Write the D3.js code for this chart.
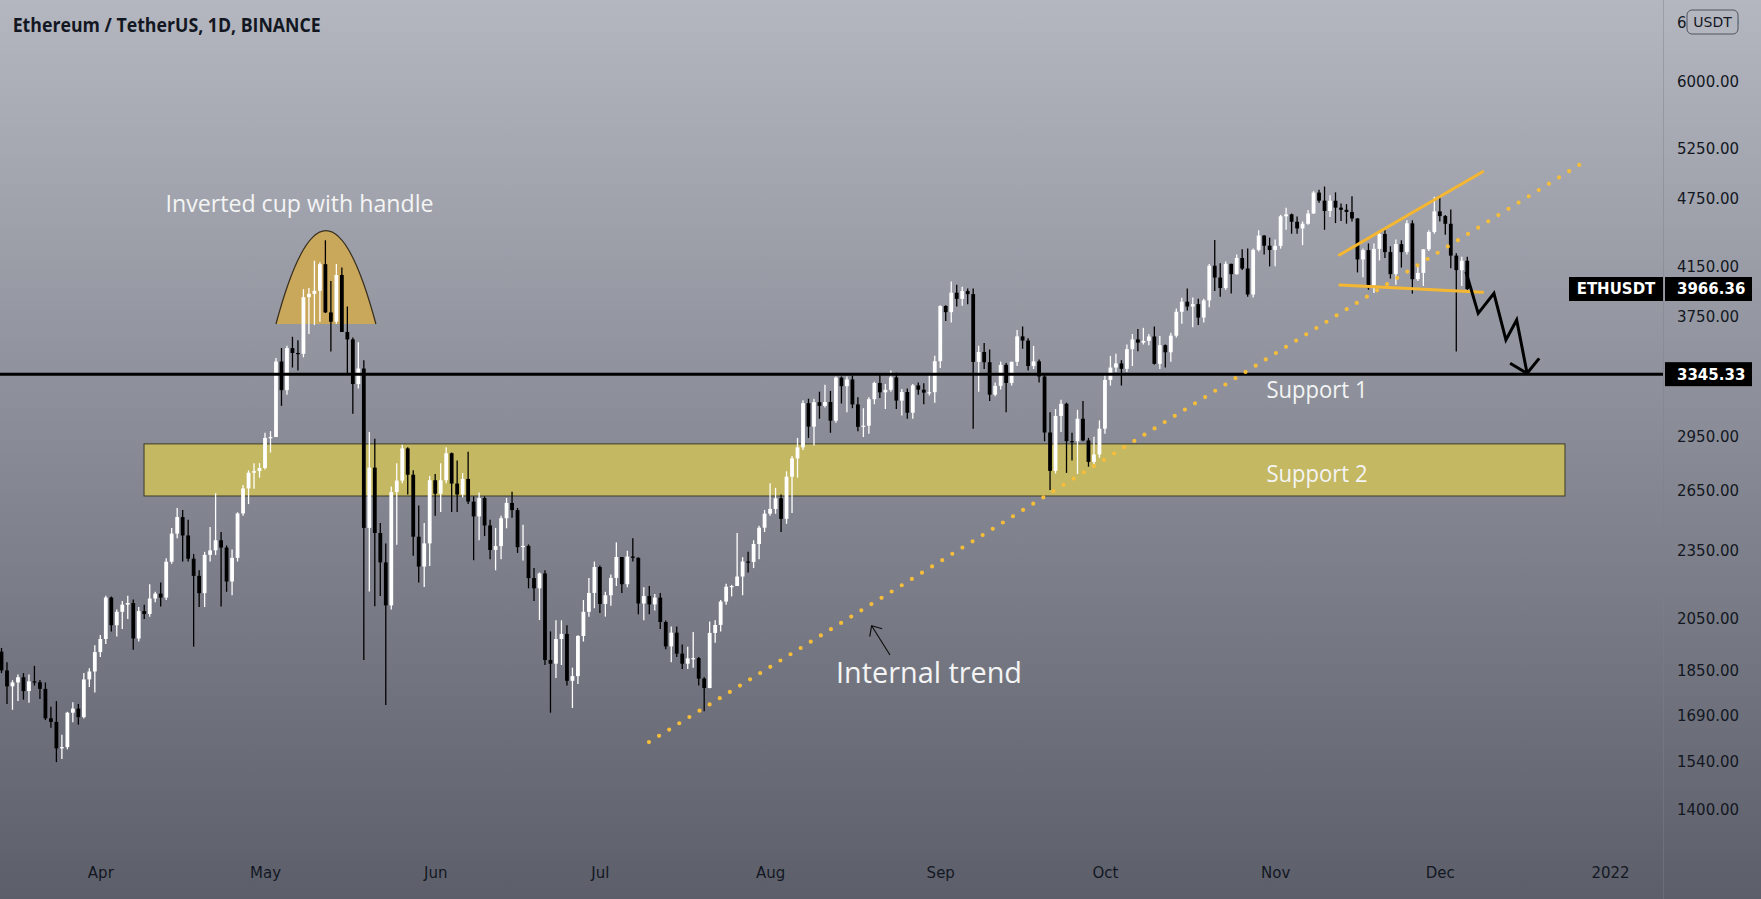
<!DOCTYPE html>
<html><head><meta charset="utf-8">
<script src="https://cdn.jsdelivr.net/npm/d3@7/dist/d3.min.js"></script>
<style>html,body{margin:0;padding:0;background:#5d606b;overflow:hidden}svg{display:block}</style>
</head><body>
<svg id="chart" width="1761" height="899"></svg>
<script>
// ---------------- DATA (ETH/USDT daily) ----------------
const startDate = "2021-03-14";
const openPrices = [
 1921,1850,1792,1806,1825,1775,1810,1807,1783,1681,1669,1583,1587,1700,1714,1685,1817,1846,
 1919,1970,2140,2025,2080,2110,2117,1972,2083,2071,2136,2157,2140,2299,2432,2514,2423,2313,2235,2159,2331,2352,2400,2365,2210,2317,2532,2662,2747,2756,
 2773,2945,2950,3431,3240,3524,3490,3484,3902,3928,3952,4168,3785,3715,4079,3640,3586,3280,3383,2460,2775,2435,2296,2107,2643,2704,2884,2736,2417,2277,2385,
 2706,2634,2706,2856,2688,2630,2713,2593,2517,2611,2472,2354,2372,2508,2586,2549,2367,2373,2225,2180,2246,1889,1875,1970,1990,1812,1829,1982,2080,2160,
 2275,2113,2150,2226,2321,2198,2323,2317,2115,2147,2111,2140,2038,1941,1995,1913,1875,1895,1896,1820,1786,1994,2026,2123,2187,2190,2232,2300,2298,2382,2461,
 2531,2555,2610,2505,2725,2827,2890,3157,3012,3163,3140,3164,3048,3322,3266,3310,3149,3011,3018,3182,3287,3226,3242,3324,3173,3228,3097,3271,3243,3224,3227,
 3433,3834,3787,3937,3889,3950,3926,3428,3497,3426,3211,3268,3408,3287,3429,3608,3578,3400,3432,3330,2977,2757,3077,3153,2926,2925,3060,2930,2807,2849,
 3000,3307,3390,3418,3381,3517,3586,3563,3575,3607,3415,3545,3495,3613,3790,3867,3830,3848,3746,3877,4155,4058,3974,4171,4086,4220,4132,3923,4289,4414,4325,
 4288,4324,4587,4605,4537,4477,4519,4613,4810,4733,4636,4732,4667,4647,4627,4567,4208,4287,3998,4298,4428,4270,4086,4339,4270,4523,4045,4096,4294,4445,
 4632,4589,4519,4240,4119,4197
];
const highPrices = [
 1935,1880,1814,1835,1840,1835,1867,1815,1806,1720,1740,1627,1703,1736,1730,1840,1858,1945,
 1986,2148,2145,2090,2125,2148,2132,2100,2110,2198,2165,2205,2315,2460,2560,2550,2500,2335,2260,2345,2464,2637,2440,2375,2356,2538,2680,2760,2800,2800,
 2975,2985,3455,3525,3540,3605,3580,3965,3975,4197,4185,4372,4030,4170,4140,3830,3600,3565,3440,2980,2940,2484,2385,2672,2800,2905,2890,2760,2573,2484,2729,
 2740,2800,2890,2860,2815,2745,2865,2620,2640,2620,2500,2460,2520,2612,2645,2560,2475,2380,2270,2250,2260,2000,2045,2045,2025,1860,1985,2130,2225,2300,
 2282,2165,2241,2390,2321,2350,2410,2320,2185,2190,2155,2160,2044,2020,2020,1948,1940,1998,1900,1825,2040,2045,2130,2200,2195,2435,2320,2345,2400,2470,2550,
 2690,2665,2630,2755,2840,2945,3175,3185,3185,3230,3275,3235,3330,3330,3330,3335,3195,3125,3195,3295,3340,3280,3370,3355,3248,3250,3280,3290,3285,3350,3470,
 3840,3840,4027,4000,3985,3970,3970,3540,3560,3515,3290,3430,3420,3430,3655,3680,3595,3540,3445,3345,3100,3120,3178,3160,2976,3115,3170,2945,2952,3050,
 3340,3470,3485,3440,3550,3625,3662,3670,3625,3680,3610,3550,3635,3815,3897,3971,3900,3890,3890,4170,4375,4175,4190,4172,4250,4295,4300,4300,4460,4416,4395,
 4380,4600,4665,4612,4585,4540,4645,4824,4838,4868,4785,4812,4705,4700,4775,4570,4300,4345,4345,4450,4463,4320,4380,4372,4550,4550,4170,4295,4460,4770,
 4785,4600,4650,4260,4230,4230
];
const lowPrices = [
 1840,1730,1710,1740,1745,1734,1795,1747,1675,1650,1540,1550,1580,1668,1660,1680,1790,1770,
 1900,1950,2000,1980,2010,2050,1928,1960,2050,2060,2120,2102,2130,2290,2410,2300,2300,1940,2100,2100,2300,2330,2102,2165,2150,2300,2520,2580,2660,2720,
 2765,2860,2950,3140,3210,3390,3370,3460,3625,3690,3715,3780,3500,3700,3640,3345,3090,3250,1889,2166,2103,2147,1726,2090,2378,2690,2630,2327,2206,2186,2280,
 2520,2540,2690,2540,2540,2615,2580,2306,2400,2420,2310,2260,2310,2458,2510,2340,2305,2180,2125,2046,1870,1700,1822,1870,1795,1716,1800,1960,2060,2095,
 2075,2060,2105,2190,2160,2185,2300,2070,2045,2070,2085,2010,1930,1880,1900,1855,1855,1860,1795,1705,1785,1955,2000,2110,2145,2190,2150,2250,2270,2310,2440,
 2520,2530,2440,2480,2535,2720,2875,2945,2900,3060,3130,2975,3035,3155,3100,3125,2985,2950,2970,3150,3190,3120,3230,3120,3080,3060,3060,3210,3150,3205,3160,
 3387,3720,3710,3830,3835,3848,3000,3230,3380,3170,3200,3244,3100,3270,3400,3520,3370,3380,3290,2925,2653,2743,2980,2746,2815,2740,2925,2780,2780,2830,
 2970,3270,3360,3270,3360,3400,3503,3550,3544,3410,3380,3390,3430,3600,3700,3800,3675,3690,3710,3825,3950,3905,3960,3930,4080,4120,3905,3900,4275,4250,4150,
 4150,4300,4465,4430,4430,4330,4510,4610,4713,4465,4580,4525,4545,4520,4540,4100,4060,3960,3935,4200,4220,4050,4000,4140,4250,3930,4030,3990,4280,4430,
 4540,4420,4135,3500,3990,3940
];
const closePrices = [
 1850,1792,1806,1825,1775,1810,1807,1783,1681,1669,1583,1587,1700,1714,1685,1817,1846,1919,
 1970,2140,2025,2080,2110,2117,1972,2083,2071,2136,2157,2140,2299,2432,2514,2423,2313,2235,2159,2331,2352,2400,2365,2210,2317,2532,2662,2747,2756,2773,
 2945,2950,3431,3240,3524,3490,3484,3902,3928,3952,4168,3785,3715,4079,3640,3586,3280,3383,2460,2775,2435,2296,2107,2643,2704,2884,2736,2417,2277,2385,2706,
 2634,2706,2856,2688,2630,2713,2593,2517,2611,2472,2354,2372,2508,2586,2549,2367,2373,2225,2180,2246,1889,1875,1970,1990,1812,1829,1982,2080,2160,2275,
 2113,2150,2226,2321,2198,2323,2317,2115,2147,2111,2140,2038,1941,1995,1913,1875,1895,1896,1820,1786,1994,2026,2123,2187,2190,2232,2300,2298,2382,2461,2531,
 2555,2610,2505,2725,2827,2890,3157,3012,3163,3140,3164,3048,3322,3266,3310,3149,3011,3018,3182,3287,3226,3242,3324,3173,3228,3097,3271,3243,3224,3227,3433,
 3834,3787,3937,3889,3950,3926,3428,3497,3426,3211,3268,3408,3287,3429,3608,3578,3400,3432,3330,2977,2757,3077,3153,2926,2925,3060,2930,2807,2849,3000,
 3307,3390,3418,3381,3517,3586,3563,3575,3607,3415,3545,3495,3613,3790,3867,3830,3848,3746,3877,4155,4058,3974,4171,4086,4220,4132,3923,4289,4414,4325,4288,
 4324,4587,4605,4537,4477,4519,4613,4810,4733,4636,4732,4667,4647,4627,4567,4208,4287,3998,4298,4428,4270,4086,4339,4270,4523,4045,4096,4294,4445,4632,
 4589,4519,4240,4119,4197,3966.36
];
const priceTicks = [6750, 6000, 5250, 4750, 4150, 3750, 2950, 2650, 2350, 2050, 1850, 1690, 1540, 1400];
const monthTicks = ["2021-04-01","2021-05-01","2021-06-01","2021-07-01","2021-08-01","2021-09-01","2021-10-01","2021-11-01","2021-12-01","2022-01-01"];
const monthLabels = ["Apr","May","Jun","Jul","Aug","Sep","Oct","Nov","Dec","2022"];
const symbolName = "ETHUSDT";
const support1Price = 3345.33;
// annotation anchors: [days after startDate, price]
const support2Zone = {from: 25.96, to: 284.8, top: 2910, bottom: 2622};
const cupArc = {left: [50.0, 3698], apex: [59.1, 4457], right: [68.2, 3698]};
const trendLine = [[117.94, 1603], [288.25, 5113]];
const wedgeUpper = [[243.7, 4245], [269.8, 5015]];
const wedgeLower = [[243.8, 3998], [269.8, 3940]];
const zigzag = [[266.76, 4106], [268.99, 3778], [271.86, 3932], [274.04, 3582], [276.0, 3728], [277.9, 3351]];
const zigzagHead = [[274.8, 3419], [277.9, 3351], [280.1, 3453]];
const trendPointer = [[161.84, 1908], [158.5, 2023]];

// ---------------- CHART ----------------
const W = 1761, H = 899, plotRight = 1663;
const svg = d3.select("#chart");
const defs = svg.append("defs");
const grad = defs.append("linearGradient").attr("id", "bg").attr("x1", 0).attr("y1", 0).attr("x2", 0).attr("y2", 1);
grad.append("stop").attr("offset", "0%").attr("stop-color", "#b4b7c0");
grad.append("stop").attr("offset", "100%").attr("stop-color", "#5c5f6a");
svg.append("rect").attr("width", W).attr("height", H).attr("fill", "url(#bg)");
defs.append("clipPath").attr("id", "plotClip").append("rect").attr("width", plotRight).attr("height", H);

const t0 = new Date(startDate + "T00:00:00Z");
const DAY = 864e5;
const dayToDate = d => new Date(t0.getTime() + d * DAY);
const dates = closePrices.map((_, i) => dayToDate(i));

const x = d3.scaleUtc().domain([t0, new Date("2022-01-01T00:00:00Z")]).range([1.5, 1610]);
const y = d3.scaleLog().domain([1400, 6000]).range([809.8, 82]);
const px = p => [x(dayToDate(p[0])), y(p[1])];

// axis separator
svg.append("line").attr("x1", plotRight + 0.5).attr("x2", plotRight + 0.5).attr("y1", 0).attr("y2", H)
  .attr("stroke", "#7d808a").attr("stroke-opacity", 0.45).attr("stroke-width", 1);

const plot = svg.append("g").attr("clip-path", "url(#plotClip)");

// Support 2 zone
plot.append("rect")
  .attr("x", x(dayToDate(support2Zone.from)))
  .attr("y", y(support2Zone.top))
  .attr("width", x(dayToDate(support2Zone.to)) - x(dayToDate(support2Zone.from)))
  .attr("height", y(support2Zone.bottom) - y(support2Zone.top))
  .attr("fill", "#c4b862").attr("stroke", "#3c3a2a").attr("stroke-width", 1);

// Inverted cup (arc)
{
  const L = px(cupArc.left), A = px(cupArc.apex), R = px(cupArc.right);
  const cy = L[1] - 2 * (L[1] - A[1]);
  const cx = 2 * A[0] - (L[0] + R[0]) / 2;
  plot.append("path")
    .attr("d", `M${L[0]},${L[1]} Q${cx},${cy} ${R[0]},${R[1]} Z`)
    .attr("fill", "#c9a85c").attr("stroke", "none");
  plot.append("path")
    .attr("d", `M${L[0]},${L[1]} Q${cx},${cy} ${R[0]},${R[1]}`)
    .attr("fill", "none").attr("stroke", "#3a3020").attr("stroke-width", 1.3);
}

// Candles
const bodyW = 3.8;
const candles = plot.append("g");
closePrices.forEach((c, i) => {
  const o = openPrices[i], hi = highPrices[i], lo = lowPrices[i];
  const col = c >= o ? "#ffffff" : "#000000";
  const cx = x(dates[i]);
  candles.append("line").attr("x1", cx).attr("x2", cx).attr("y1", y(hi)).attr("y2", y(lo))
    .attr("stroke", col).attr("stroke-width", 1.3);
  const top = y(Math.max(o, c)), bot = y(Math.min(o, c));
  candles.append("rect").attr("x", cx - bodyW / 2).attr("y", top)
    .attr("width", bodyW).attr("height", Math.max(1.2, bot - top)).attr("fill", col);
});

// Support 1 line
plot.append("line").attr("x1", 0).attr("x2", plotRight).attr("y1", y(support1Price)).attr("y2", y(support1Price))
  .attr("stroke", "#000").attr("stroke-width", 3);

// dotted internal trend line
const lineGen = d3.line().x(p => px(p)[0]).y(p => px(p)[1]);
plot.append("path").attr("d", lineGen(trendLine)).attr("fill", "none")
  .attr("stroke", "#f5bd3a").attr("stroke-width", 4.2).attr("stroke-linecap", "round")
  .attr("stroke-dasharray", "0 11.9");

// wedge lines
[wedgeUpper, wedgeLower].forEach(seg => {
  plot.append("path").attr("d", lineGen(seg)).attr("fill", "none")
    .attr("stroke", "#f5b731").attr("stroke-width", 3).attr("stroke-linecap", "round");
});

// zigzag projection
plot.append("path").attr("d", lineGen(zigzag)).attr("fill", "none")
  .attr("stroke", "#000").attr("stroke-width", 3).attr("stroke-linejoin", "miter");
plot.append("path").attr("d", lineGen(zigzagHead)).attr("fill", "none")
  .attr("stroke", "#000").attr("stroke-width", 3);

// pointer arrow for internal trend
{
  const a = px(trendPointer[0]), b = px(trendPointer[1]);
  const ang = Math.atan2(a[1] - b[1], a[0] - b[0]);
  const len = 11, spread = 42 * Math.PI / 180;
  const h1 = [b[0] + len * Math.cos(ang - spread), b[1] + len * Math.sin(ang - spread)];
  const h2 = [b[0] + len * Math.cos(ang + spread), b[1] + len * Math.sin(ang + spread)];
  plot.append("path").attr("d", `M${a[0]},${a[1]} L${b[0]},${b[1]} M${h1[0]},${h1[1]} L${b[0]},${b[1]} L${h2[0]},${h2[1]}`)
    .attr("fill", "none").attr("stroke", "#111").attr("stroke-width", 1.2);
}

// annotation texts
const txt = (s, cx, base, size, width) => plot.append("text").text(s)
  .attr("x", cx).attr("y", base).attr("text-anchor", "middle")
  .attr("font-family", "'Open Sans', sans-serif").attr("font-size", size).attr("fill", "#f4f4f4")
  .attr("textLength", width).attr("lengthAdjust", "spacingAndGlyphs");
txt("Inverted cup with handle", 299.5, 212.3, 23, 268);
txt("Support 1", 1317, 398, 23.5, 101);
txt("Support 2", 1317, 481.5, 23.5, 101);
txt("Internal trend", 929, 683.3, 29, 186);

// title
svg.append("text").text("Ethereum / TetherUS, 1D, BINANCE")
  .attr("x", 12.7).attr("y", 31.5)
  .attr("font-family", "'Open Sans', sans-serif").attr("font-weight", 700).attr("font-size", 20)
  .attr("fill", "#131722").attr("textLength", 308).attr("lengthAdjust", "spacingAndGlyphs");

// Y axis
const axisFont = "'DejaVu Sans', sans-serif";
const yAxis = svg.append("g").attr("transform", `translate(${plotRight + 14},0)`)
  .call(d3.axisRight(y).tickValues(priceTicks).tickFormat(d3.format(".2f")).tickSize(0).tickPadding(0));
yAxis.select(".domain").remove();
yAxis.selectAll("text").attr("font-family", axisFont).attr("font-size", 15).attr("fill", "#131722").attr("text-anchor", "start");

// X axis
const xAxis = svg.append("g").attr("transform", `translate(0,867)`)
  .call(d3.axisBottom(x).tickValues(monthTicks.map(d => new Date(d + "T00:00:00Z")))
    .tickFormat((d, i) => monthLabels[i]).tickSize(0).tickPadding(0));
xAxis.select(".domain").remove();
xAxis.selectAll("text").attr("font-family", axisFont).attr("font-size", 15).attr("fill", "#131722");

// USDT currency box (over the 6750 label)
svg.append("rect").attr("x", 1687).attr("y", 10).attr("width", 51).attr("height", 24).attr("rx", 5)
  .attr("fill", "#b3b6bf").attr("stroke", "#50535e").attr("stroke-width", 1);
svg.append("text").text("USDT").attr("x", 1712.5).attr("y", 27).attr("text-anchor", "middle")
  .attr("font-family", axisFont).attr("font-size", 14).attr("fill", "#131722");

// price tags
const tag = (price, label, bold) => {
  const yy = y(price);
  svg.append("rect").attr("x", plotRight + 2).attr("y", yy - 12).attr("width", 87).attr("height", 24).attr("fill", "#000");
  svg.append("text").text(d3.format(".2f")(price)).attr("x", plotRight + 14).attr("y", yy + 5.5)
    .attr("font-family", axisFont).attr("font-weight", 700).attr("font-size", 15).attr("fill", "#fff");
};
tag(closePrices[closePrices.length - 1]);
tag(support1Price);
{
  const yy = y(closePrices[closePrices.length - 1]);
  svg.append("rect").attr("x", 1569).attr("y", yy - 12).attr("width", plotRight - 1569).attr("height", 24).attr("fill", "#000");
  svg.append("text").text(symbolName).attr("x", (1569 + plotRight) / 2).attr("y", yy + 5.5).attr("text-anchor", "middle")
    .attr("font-family", axisFont).attr("font-weight", 700).attr("font-size", 15).attr("fill", "#fff");
}
</script>
</body></html>
